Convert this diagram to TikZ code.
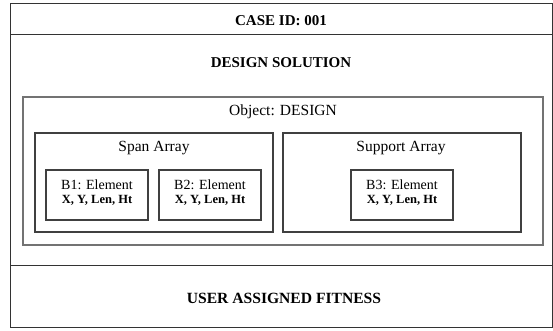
\documentclass[tikz,border=0pt]{standalone}
\usepackage{fontspec}
\setmainfont{Liberation Serif}
\newcommand{\casefont}{\fontsize{15pt}{17pt}\selectfont\bfseries}
\newcommand{\boxfont}{\fontsize{15.5pt}{17pt}\selectfont}
\newcommand{\elemfont}{\fontsize{14pt}{15pt}\selectfont}
\newcommand{\attrfont}{\fontsize{12.5pt}{13pt}\selectfont\bfseries}

\begin{document}
\begin{tikzpicture}[x=1pt,y=-1pt,line width=0.9pt,
  every node/.style={inner sep=0pt,outer sep=0pt},
  frame/.style={draw=black!80},
  objframe/.style={draw=black!55,line width=1.3pt},
  elembox/.style={draw=black!75,line width=1.1pt}]
  \path[use as bounding box] (0,0) rectangle (553,331);  % canvas 553x331px
  % ---- outer record: header, body, footer ----
  \draw[frame] (10,3) rectangle (552,327);
  \draw[frame] (10,34) -- (552,34);
  \draw[frame] (10,265) -- (552,265);
  \node[font=\casefont] (caseid) at (281,21) {CASE ID: 001};
  \node[font=\casefont] (solution) at (281,63) {DESIGN SOLUTION};
  \node[font=\casefont\fontsize{15.6pt}{17pt}\selectfont] (fitness) at (284,298) {USER ASSIGNED FITNESS};
  % ---- object box ----
  \draw[objframe] (23,97) rectangle (543,245);
  \node[font=\boxfont] (object) at (283,112) {Object: DESIGN};
  % ---- the two arrays ----
  \draw[elembox] (35,133) rectangle (273,232);
  \draw[elembox] (283,133) rectangle (521,232);
  \node[font=\boxfont] (span) at (154,148) {Span Array};
  \node[font=\boxfont] (support) at (401,148) {Support Array};
  % ---- elements (x = left edge) ----
  \foreach \x/\name/\lab in {46/b1/B1, 159/b2/B2, 351/b3/B3} {
    \draw[elembox] (\x,170) rectangle ++(102,50);
    \node[font=\elemfont] (\name) at (\x+51,185) {\lab: Element};
    \node[font=\attrfont] (\name attr) at (\x+51,200) {X, Y, Len, Ht};
  }
\end{tikzpicture}
\end{document}
